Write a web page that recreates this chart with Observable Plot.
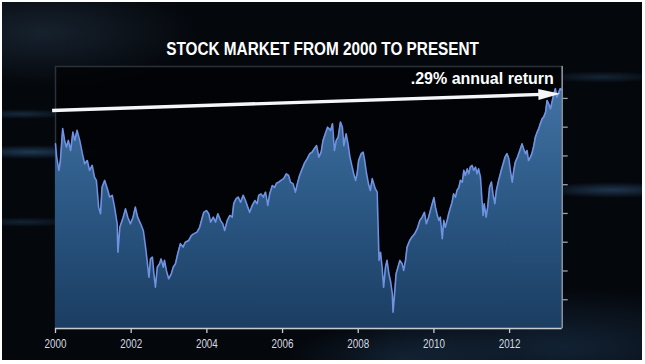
<!DOCTYPE html>
<html>
<head>
<meta charset="utf-8">
<script src="https://cdn.jsdelivr.net/npm/d3@7"></script>
<script src="https://cdn.jsdelivr.net/npm/@observablehq/plot@0.6"></script>
<style>
  html, body { margin: 0; padding: 0; background: #ffffff; }
  body { width: 645px; height: 364px; position: relative; overflow: hidden; }
  #panel {
    position: absolute; left: 2px; top: 2px; width: 640px; height: 358px;
    background:
      radial-gradient(ellipse 70px 7px at 28px 150px, rgba(70,130,190,0.40), transparent),
      radial-gradient(ellipse 55px 5px at 20px 112px, rgba(70,130,190,0.28), transparent),
      radial-gradient(ellipse 60px 5px at 22px 220px, rgba(70,130,190,0.22), transparent),
      radial-gradient(ellipse 75px 8px at 610px 188px, rgba(80,140,200,0.35), transparent),
      radial-gradient(ellipse 60px 6px at 600px 75px, rgba(80,140,200,0.22), transparent),
      radial-gradient(ellipse 160px 55px at 40px 30px, rgba(45,65,85,0.45), transparent),
      radial-gradient(ellipse 220px 60px at 560px 345px, rgba(50,95,140,0.30), transparent),
      radial-gradient(ellipse 120px 40px at 400px 358px, rgba(50,95,140,0.25), transparent),
      #04070c;
  }
  #title {
    position: absolute; left: 0; top: 40px; width: 645px; text-align: center;
    font-family: "Liberation Sans", Arial, sans-serif;
    font-weight: bold; font-size: 18.7px; line-height: 1; color: #ffffff; white-space: nowrap;
    transform: scaleX(0.82); transform-origin: 323px 50%;
  }
  #chart { position: absolute; left: 0; top: 60px; }
</style>
</head>
<body>
<div id="panel"></div>
<div id="title"></div>
<div id="chart"></div>
<script>
const title = "STOCK MARKET FROM 2000 TO PRESENT";
const annotation = ".29% annual return";

const years = [
  2000.00,2000.03,2000.09,2000.13,2000.19,2000.24,2000.29,2000.34,2000.40,2000.46,2000.51,2000.57,2000.64,2000.71,2000.77,2000.84,2000.90,2000.97,
  2001.03,2001.08,2001.14,2001.19,2001.23,2001.30,2001.37,2001.43,2001.50,2001.56,2001.63,2001.65,2001.70,2001.79,2001.85,2001.91,2001.98,
  2002.05,2002.11,2002.17,2002.25,2002.32,2002.38,2002.42,2002.47,2002.51,2002.56,2002.60,2002.64,2002.69,2002.75,2002.79,2002.85,2002.88,2002.93,2002.99,
  2003.06,2003.11,2003.17,2003.23,2003.30,2003.37,2003.43,2003.52,2003.59,2003.65,2003.74,2003.81,2003.88,2003.92,2003.99,
  2004.05,2004.10,2004.17,2004.23,2004.29,2004.36,2004.42,2004.47,2004.54,2004.61,2004.67,2004.71,2004.77,2004.83,2004.89,2004.96,
  2005.02,2005.08,2005.13,2005.20,2005.27,2005.33,2005.37,2005.43,2005.49,2005.55,2005.61,2005.66,2005.73,2005.79,2005.84,2005.90,2005.96,
  2006.03,2006.10,2006.16,2006.21,2006.28,2006.34,2006.39,2006.45,2006.52,2006.58,2006.65,2006.72,2006.78,2006.84,2006.90,2006.96,
  2007.02,2007.07,2007.13,2007.19,2007.27,2007.32,2007.37,2007.42,2007.47,2007.53,2007.58,2007.62,2007.68,2007.73,2007.78,2007.84,2007.88,2007.93,2007.97,
  2008.01,2008.08,2008.13,2008.17,2008.22,2008.28,2008.32,2008.37,2008.41,2008.45,2008.50,2008.53,2008.55,2008.59,2008.63,2008.67,2008.72,2008.76,2008.81,2008.85,2008.90,2008.92,2008.96,
  2009.00,2009.05,2009.10,2009.16,2009.20,2009.25,2009.29,2009.36,2009.42,2009.49,2009.56,2009.63,2009.69,2009.75,2009.80,2009.86,2009.93,
  2010.00,2010.04,2010.08,2010.13,2010.17,2010.22,2010.26,2010.30,2010.35,2010.39,2010.44,2010.48,2010.52,2010.57,2010.61,2010.66,2010.70,2010.75,2010.79,2010.83,2010.88,2010.92,2010.96,
  2011.01,2011.05,2011.10,2011.14,2011.18,2011.23,2011.27,2011.30,2011.33,2011.38,2011.42,2011.47,2011.52,2011.56,2011.61,2011.65,2011.71,2011.78,2011.83,2011.88,2011.93,2011.98,
  2012.02,2012.07,2012.11,2012.15,2012.21,2012.27,2012.33,2012.37,2012.42,2012.46,2012.50,2012.55,2012.59,2012.64,2012.68,2012.73,2012.77,2012.81,2012.86,2012.90,2012.95,2012.99,
  2013.03,2013.08,2013.12,2013.17,2013.21,2013.25,2013.30,2013.34,2013.39
];
const values = [
  642,596,550,584,695,654,631,654,619,683,654,689,654,608,573,584,550,567,
  526,515,422,399,491,515,486,457,463,422,364,265,352,387,416,387,364,
  387,422,387,364,341,283,237,178,242,248,190,144,213,225,242,213,237,202,173,
  190,213,225,260,295,283,300,306,323,329,335,352,387,404,410,
  399,370,387,370,399,376,364,341,376,393,387,434,451,457,439,463,
  445,422,404,428,445,434,463,468,457,474,428,468,497,491,505,509,515,
  521,538,532,509,503,474,503,532,555,575,590,608,613,625,636,596,
  613,654,677,700,689,712,619,654,665,718,700,636,677,642,596,561,538,515,538,
  584,608,613,584,538,497,480,521,503,486,474,329,237,265,213,144,213,237,190,167,121,57,121,
  190,213,237,225,202,237,283,306,318,329,347,376,387,404,364,387,422,
  455,422,399,376,387,312,376,352,376,399,422,439,468,457,480,491,515,509,550,532,555,538,561,
  567,550,561,538,555,526,445,393,434,387,422,491,509,468,434,480,515,550,573,596,608,590,
  550,509,550,578,596,619,642,625,608,619,584,596,608,636,665,683,695,712,729,735,752,793,
  782,764,787,816,834,804,822,834,828
];

const xTicks = [2000, 2002, 2004, 2006, 2008, 2010, 2012];
const yTicks = [100, 200, 300, 400, 500, 600, 700, 800];
const xDomain = [2000, 2013.39];
const yDomain = [0, 911];

// trend arrow (start, shaft end, tip) and annotation anchor
const arrowX = [1999.91, 2012.85];
const arrowY = [758, 814];
const arrowTip = {x: 2013.34, y: 816};
const annotationPos = {x: 2013.17, y: 851};

const data = years.map((t, i) => ({t, v: values[i]}));
const arrowData = arrowX.map((x, i) => ({x, y: arrowY[i]}));

document.getElementById("title").textContent = title;

const headLen = 22, headHalf = 5.5, headAngle = -0.0329;
const arrowHead = {
  draw(context) {
    const c = Math.cos(headAngle), s = Math.sin(headAngle);
    const bx = -headLen * c, by = -headLen * s;
    const px = -s * headHalf, py = c * headHalf;
    context.moveTo(0, 0);
    context.lineTo(bx + px, by + py);
    context.lineTo(bx - px, by - py);
    context.closePath();
  }
};

const sans = '"Liberation Sans", Arial, sans-serif';

const chart = Plot.plot({
  width: 645,
  height: 300,
  marginLeft: 55,
  marginRight: 83.3,
  marginTop: 6,
  marginBottom: 32,
  style: {background: "transparent", color: "#d3d8df", fontFamily: sans, fontSize: "12px", overflow: "visible"},
  x: {domain: xDomain},
  y: {domain: yDomain},
  marks: [
    Plot.frame({stroke: "#2a3139", strokeWidth: 1.5, fill: "#010306", fillOpacity: 0.75}),
    Plot.areaY(data, {x: "t", y: "v", fill: "url(#areaGrad)"}),
    Plot.lineY(data, {x: "t", y: "v", stroke: "#7092e2", strokeWidth: 1.6, strokeLinejoin: "round"}),
    Plot.ruleX([xDomain[1]], {stroke: "#8e96a0", strokeWidth: 1.5}),
    Plot.axisY({anchor: "right", ticks: yTicks, tickSize: 5, tickFormat: () => "", stroke: "#9aa2ac", strokeWidth: 1.3, label: null}),
    Plot.ruleY([0], {stroke: "#c6cbd2", strokeWidth: 1.6}),
    Plot.axisX({ticks: xTicks, tickSize: 5, tickPadding: 6, tickFormat: d => String(d), stroke: "#c6cbd2", strokeWidth: 1.3, fill: "#d6dae0", fontSize: 12, label: null}),
    Plot.line(arrowData, {x: "x", y: "y", stroke: "#f4f6f8", strokeWidth: 3.4, strokeLinecap: "butt"}),
    Plot.dot([arrowTip], {x: "x", y: "y", symbol: arrowHead, fill: "#f4f6f8", stroke: null, r: 5}),
    Plot.text([annotationPos], {x: "x", y: "y", text: () => annotation, textAnchor: "end", lineAnchor: "bottom",
      fill: "#ffffff", fontSize: 16, fontWeight: "bold", fontFamily: sans})
  ]
});

const ns = "http://www.w3.org/2000/svg";
const defs = document.createElementNS(ns, "defs");
const grad = document.createElementNS(ns, "linearGradient");
grad.setAttribute("id", "areaGrad");
grad.setAttribute("gradientUnits", "userSpaceOnUse");
grad.setAttribute("x1", "0"); grad.setAttribute("x2", "0");
grad.setAttribute("y1", "20"); grad.setAttribute("y2", "268");
[["0", "#4474a6"], ["0.5", "#2b5884"], ["1", "#1b3d62"]].forEach(([o, c]) => {
  const st = document.createElementNS(ns, "stop");
  st.setAttribute("offset", o); st.setAttribute("stop-color", c);
  grad.appendChild(st);
});
defs.appendChild(grad);
chart.insertBefore(defs, chart.firstChild);

document.getElementById("chart").appendChild(chart);

// condense the tick labels (narrow face of the original)
chart.querySelectorAll('g[aria-label="x-axis tick label"] text').forEach(el => {
  const len = el.getComputedTextLength();
  el.setAttribute("textLength", (len * 0.82).toFixed(2));
  el.setAttribute("lengthAdjust", "spacingAndGlyphs");
});
</script>
</body>
</html>
